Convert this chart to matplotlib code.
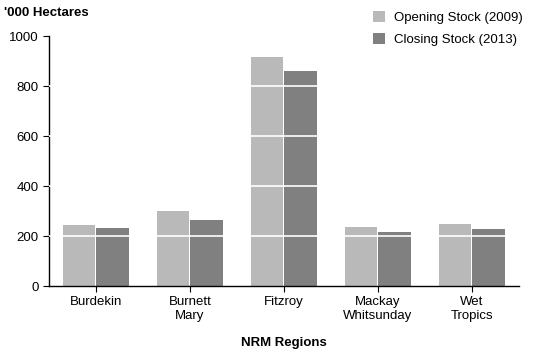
import numpy as np
import matplotlib.pyplot as plt

regions = ['Burdekin', 'Burnett\nMary', 'Fitzroy', 'Mackay\nWhitsunday', 'Wet\nTropics']
opening = [244, 300, 916, 236, 248]
closing = [232, 264, 860, 216, 228]
series_names = ['Opening Stock (2009)', 'Closing Stock (2013)']
yticks = [0, 200, 400, 600, 800, 1000]

plt.rcParams['font.family'] = ['Liberation Sans', 'DejaVu Sans']
plt.rcParams['font.size'] = 9.5

fig = plt.figure(figsize=(5.4, 3.54), dpi=100)
ax = fig.add_axes([0.0907, 0.192, 0.87, 0.706])

x = np.arange(len(regions))
w = 0.345
b1 = ax.bar(x - w / 2 - 0.005, opening, w, color='#b9b9b9', label=series_names[0], zorder=2)
b2 = ax.bar(x + w / 2 + 0.005, closing, w, color='#808080', label=series_names[1], zorder=2)

# white gridlines drawn over the bars
for yv in yticks[1:-1]:
    ax.axhline(yv, color='white', lw=1.2, zorder=3)

ax.set_xlim(-0.5, 4.5)
ax.set_ylim(0, 1000)
ax.set_yticks(yticks)
ax.set_xticks(x)
ax.set_xticklabels(regions)
ax.tick_params(axis='both', length=4, width=0.8, color='black')
ax.tick_params(axis='x', pad=3)
for s in ['top', 'right']:
    ax.spines[s].set_visible(False)
ax.spines['left'].set_linewidth(1)
ax.spines['bottom'].set_linewidth(1)

ax.set_xlabel('NRM Regions', fontweight='bold', labelpad=11)
fig.text(0.008, 0.962, "'000 Hectares", fontweight='bold', fontsize=9.5, va='center')

ax.legend(loc='upper left', bbox_to_anchor=(0.665, 1.148), frameon=False,
          handlelength=0.9, handleheight=0.9, handletextpad=0.7, labelspacing=0.7)

fig.savefig('out.png', dpi=100)
